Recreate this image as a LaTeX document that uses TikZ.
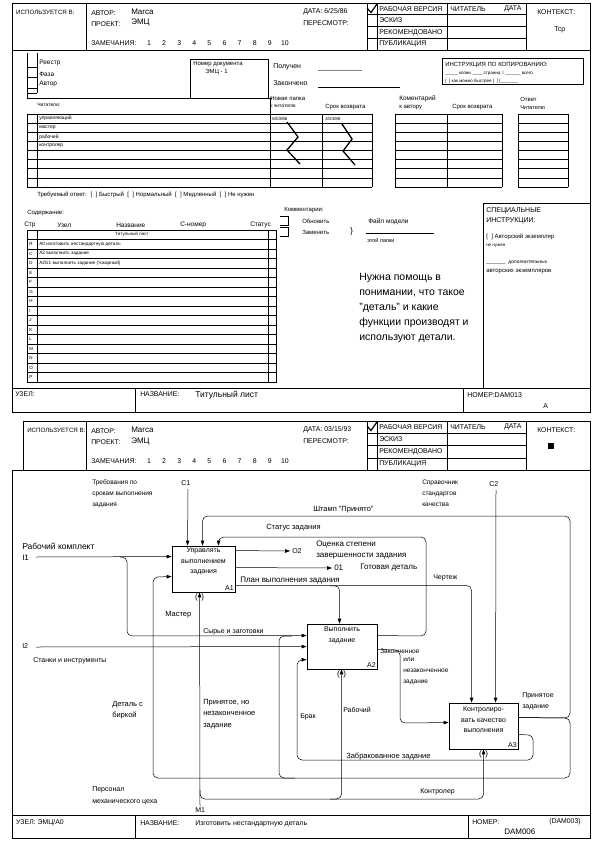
\documentclass[tikz,border=0pt]{standalone}
\usepackage{fontspec}
\setmainfont{Liberation Sans}
\usetikzlibrary{arrows.meta,calc}
\newcommand\fs[2]{\fontsize{#1}{#2}\selectfont}
\newcommand\FormHead[7]{%
\pgfmathsetmacro\hh{(#4-#3)/4}%
\draw (#2,#3) -- (#5,#3);
\draw (#2,#3) -- (#2,#4);
\draw (#5,#3) -- (#5,#4);
\draw (86,#3) -- (86,#4);
\draw (367,#3) -- (367,#4);
\draw (377,#3) -- (377,#4);
\draw (447,#3) -- (447,#4);
\draw (526,#3) -- (526,#4);
\foreach \k in {1,2,3} {\draw (367,{#3+\k*\hh}) -- (526,{#3+\k*\hh});}
\draw[line width=1.2pt] (367,{#3+5}) -- (371,{#3+9.5}) -- (377,{#3+1});
\node[hd,font=\fs{6.2}{7}] (#1use) at (#2+4,#3+9) {ИСПОЛЬЗУЕТСЯ В:};
\node[hd] (#1aut) at (91,#3+10) {АВТОР:};
\node[tx,font=\fs{8}{9}] (#1autv) at (131,#3+8.5) {Marca};
\node[hd] (#1prj) at (91,#3+21) {ПРОЕКТ:};
\node[tx,font=\fs{8}{9}] (#1prjv) at (131,#3+20) {ЭМЦ};
\node[hd] (#1rem) at (91,#3+40) {ЗАМЕЧАНИЯ:};
\foreach \n [count=\i from 0] in {1,...,10} {\node[hd,anchor=center] (#1n\n) at ({149+\i*15.1},#3+40) {\n};}
\node[hd] (#1date) at (303,#3+9) {ДАТА: #6};
\node[hd] (#1rev) at (303,#3+20) {ПЕРЕСМОТР:};
\node[hd] (#1s1) at (379,{#3+0.5*\hh}) {РАБОЧАЯ ВЕРСИЯ};
\node[hd] (#1s2) at (379,{#3+1.5*\hh}) {ЭСКИЗ};
\node[hd] (#1s3) at (379,{#3+2.5*\hh}) {РЕКОМЕНДОВАНО};
\node[hd] (#1s4) at (379,{#3+3.5*\hh}) {ПУБЛИКАЦИЯ};
\node[hd] (#1rd) at (450,{#3+0.5*\hh}) {ЧИТАТЕЛЬ};
\node[hd] (#1dt) at (504,{#3+0.5*\hh}) {ДАТА};
\node[hd] (#1ctx) at (537,#3+9) {КОНТЕКСТ:};
#7}
\begin{document}
\begin{tikzpicture}[x=1pt,y=-1pt,line width=0.5pt,
  tx/.style={anchor=west,inner sep=0pt},
  hd/.style={tx,font=\fs{6.9}{7}},
  sm/.style={tx,font=\fs{5}{6}},
  ml/.style={anchor=north west,inner sep=0pt,align=left},
  dbox/.style={draw,line width=0.9pt,inner sep=0pt},
  arr/.style={-{Triangle[length=5pt,width=3.6pt]}},
  rc/.style={rounded corners=5pt},
  zig/.style={line width=1.3pt}]
\useasboundingbox (0,0) rectangle (597,842);

%================ PAGE 1 =================
\draw (12,3) rectangle (590,412);
\FormHead{p}{12}{3}{50}{590}{6/25/86}{\node[tx,font=\fs{7}{8}] (pctxv) at (554,30) {Tcp};}
\draw (12,50) -- (590,50);
\draw (12,388) -- (590,388);
\draw (135,388) -- (135,412);
\draw (463,388) -- (463,412);

% registry checkboxes
\draw (27,53) -- (27,98) -- (272,98);
\draw (37,53) -- (37,93);
\foreach \yy in {67,77,88,93} {\draw (27,\yy) -- (37,\yy);}
\node[tx,font=\fs{6.5}{7}] (reg) at (39,63) {Реестр};
\node[tx,font=\fs{6.5}{7}] (faz) at (39,74) {Фаза};
\node[tx,font=\fs{6.5}{7}] (avt) at (39,84) {Автор};
\draw (190,98) -- (190,59) -- (268,59) -- (268,98);
\node[tx,font=\fs{6}{7}] (ndoc) at (193,64) {Номер документа};
\node[tx,font=\fs{6}{7}] (ndocv) at (205,72) {ЭМЦ - 1};
\node[tx,font=\fs{7}{8}] (poluch) at (273,67) {Получен};
\draw[gray] (318,70) -- (362,70);
\node[tx,font=\fs{7}{8}] (zakon) at (273,83) {Закончено};
\draw (318,87) -- (400,87);
\draw (442,58) rectangle (583,84);
\node[tx,font=\fs{6}{7}] (instr) at (445,65) {ИНСТРУКЦИЯ ПО КОПИРОВАНИЮ:};
\node[tx,font=\fs{4.5}{5}] (instr2) at (445,74) {\_\_\_\_\_ копии \_\_\_\_ страниц = \_\_\_\_\_\_ всего};
\node[tx,font=\fs{4.5}{5}] (instr3) at (445,81) {[ \ ] как можно быстрее [ \ ] (\_\_\_\_\_\_\_};

\node[sm] (chit) at (37,105) {Читатели:};
\node[tx,font=\fs{6}{7}] (np1) at (270,98) {Новая папка};
\node[tx,font=\fs{5}{6}] (np2) at (270,106) {к читателю};
\node[tx,font=\fs{6}{7}] (sv1) at (325,107) {Срок возврата};
\node[tx,font=\fs{6.5}{7}] (km1) at (399,99) {Коментарий};
\node[tx,font=\fs{6}{7}] (km2) at (399,108) {к автору};
\node[tx,font=\fs{6}{7}] (sv2) at (452,107) {Срок возврата};
\node[tx,font=\fs{6}{7}] (ot1) at (520,99) {Ответ};
\node[tx,font=\fs{5.5}{7}] (ot2) at (520,108) {Читателю};

% reader tables
\foreach \k in {0,...,8} {
  \draw (27,{114+\k*9.125}) -- (372,{114+\k*9.125});
  \draw (395,{114+\k*9.125}) -- (502,{114+\k*9.125});
  \draw (518,{114+\k*9.125}) -- (568,{114+\k*9.125});}
\foreach \xx in {27,37,270,322,372,395,447,502,518,568} {\draw (\xx,114) -- (\xx,187);}
\draw (270,98) -- (270,114);
\node[sm] (r1) at (39,118.5) {управляющий};
\node[sm] (r2) at (39,127.6) {мастер};
\node[sm] (r3) at (39,136.8) {рабочий};
\node[sm] (r4) at (39,145.9) {контролер};
\node[tx,font=\fs{4.5}{5}] (d1) at (272,118.5) {6/03/86};
\node[tx,font=\fs{4.5}{5}] (d2) at (325,118.5) {4/24/86};
\draw[zig] (287,122) -- (298,137) -- (287,150) -- (300,164);
\draw[zig] (342,124) -- (352,139) -- (343,151) -- (355,165);
\node[tx,font=\fs{6}{7}] (treb) at (37,195) {Требуемый ответ: \ [ \ ] Быстрый \ [ \ ] Нормальный \ [ \ ] Медленный \ [ \ ] Не нужен};

% contents
\node[tx,font=\fs{6}{7}] (sod) at (27,213) {Содержание:};
\node[tx,font=\fs{6.5}{7}] (hstr) at (24,225) {Стр};
\node[tx,font=\fs{6.5}{7}] (huz) at (57,225) {Узел};
\node[tx,font=\fs{6.5}{7}] (hnaz) at (116,225) {Название};
\node[tx,font=\fs{6.5}{7}] (hcn) at (180,225) {С-номер};
\node[tx,font=\fs{6.5}{7}] (hst) at (250,225) {Статус};
\draw (27,230) rectangle (268,382);
\draw (268,230) rectangle (276,382);
\draw (37,230) -- (37,382);
\foreach \k in {1,...,15} {\draw (27,{230+\k*9.5}) -- (276,{230+\k*9.5});}
\node[tx,font=\fs{4.5}{5},anchor=center] (tl) at (132,234.75) {Титульный лист};
\foreach \L [count=\i from 1] in {R,C,D,E,F,G,H,I,J,K,L,M,N,O,P} {
  \node[tx,font=\fs{4.5}{5}] (lt\L) at (29,{234.75+\i*9.5}) {\L};}
\node[tx,font=\fs{4.7}{5}] (c1t) at (39,244.25) {A0 изготовить нестандартную деталь};
\node[tx,font=\fs{4.7}{5}] (c2t) at (39,253.75) {A2 выполнить задание};
\node[tx,font=\fs{4.7}{5}] (c3t) at (39,263.25) {A2G1 выполнить задание (токарный)};

% comments
\node[tx,font=\fs{6}{7}] (kom) at (284,210) {Комментарии:};
\draw (280,216) -- (288,216) -- (288,225) -- (280,225);
\draw (280,227) -- (288,227) -- (288,236) -- (280,236);
\node[tx,font=\fs{6}{7}] (obn) at (302,221) {Обновить};
\node[tx,font=\fs{6}{7}] (zam) at (302,232) {Заменить};
\node[tx,font=\fs{8}{8}] (br) at (350,231) {\}};
\node[tx,font=\fs{6.5}{7}] (fm) at (368,222) {Файл модели};
\draw (366,233) -- (434,233);
\node[tx,font=\fs{5.5}{6}] (etp) at (367,240) {этой папки};
\node[ml,font=\fs{10.5}{15}] (help) at (359,273) {Нужна помощь в\\понимании, что такое\\"деталь" и какие\\функции производят и\\используют детали.};

% special instructions
\draw (483,203) -- (590,203);
\draw (483,203) -- (483,388);
\node[tx,font=\fs{7}{8}] (spec1) at (486,211) {СПЕЦИАЛЬНЫЕ};
\node[tx,font=\fs{7}{8}] (spec2) at (486,221) {ИНСТРУКЦИИ:};
\node[tx,font=\fs{6}{7}] (spec3) at (486,237) {[ \ ] Авторский экземпляр};
\node[tx,font=\fs{4.5}{5}] (spec4) at (486,246) {не нужен};
\node[tx,font=\fs{5}{6}] (spec5) at (486,263) {\_\_\_\_\_\_\_ \ дополнительных};
\node[tx,font=\fs{6}{7}] (spec6) at (486,272) {авторских экземпляров};

% footer 1
\node[hd] (f1a) at (15,394) {УЗЕЛ:};
\node[hd] (f1b) at (140,394) {НАЗВАНИЕ:};
\node[tx,font=\fs{8.5}{9}] (f1c) at (195,395) {Титульный лист};
\node[hd,font=\fs{7}{8}] (f1d) at (467,395) {НОМЕР:DAM013};
\node[tx,font=\fs{7}{8}] (f1e) at (543,406) {A};

%================ PAGE 2 =================
\FormHead{q}{23}{421}{470}{590}{03/15/93}{\fill (548,443) rectangle (554,449);}
\draw (12,470) -- (590,470);
\draw (12,470) -- (12,838) -- (590,838) -- (590,470);
\draw (12,815) -- (590,815);
\draw (135,815) -- (135,838);
\draw (468,815) -- (468,838);
\node[hd] (f2a) at (16,823) {УЗЕЛ: ЭМЦ/A0};
\node[hd] (f2b) at (140,823) {НАЗВАНИЕ:};
\node[tx,font=\fs{7}{8}] (f2c) at (195,824) {Изготовить нестандартную деталь};
\node[hd] (f2d) at (472,822) {НОМЕР:};
\node[hd] (f2e) at (549,822) {(DAM003)};
\node[tx,font=\fs{8}{9}] (f2f) at (504,832) {DAM006};

% boxes
\node[dbox,minimum width=63pt,minimum height=46pt] (A1) at (203.5,569) {};
\node[dbox,minimum width=70pt,minimum height=45pt] (A2) at (342,646.5) {};
\node[dbox,minimum width=69pt,minimum height=46pt] (A3) at (483.5,726) {};
\node[ml,font=\fs{7}{10.5},align=center,anchor=north] (A1t) at ($(A1.north)+(0,2)$) {Управлять\\выполнением\\задания};
\node[tx,font=\fs{7}{8},anchor=south east] (A1n) at ($(A1.south east)+(-1.5,-1.5)$) {A1};
\node[ml,font=\fs{7}{10.5},align=center,anchor=north] (A2t) at ($(A2.north)+(0,3)$) {Выполнить\\задание};
\node[tx,font=\fs{7}{8},anchor=south east] (A2n) at ($(A2.south east)+(-1.5,-1.5)$) {A2};
\node[ml,font=\fs{7}{10.5},align=center,anchor=north] (A3t) at ($(A3.north)+(0,4)$) {Контролиро-\\вать качество\\выполнения};
\node[tx,font=\fs{7}{8},anchor=south east] (A3n) at ($(A3.south east)+(-1.5,-1.5)$) {A3};

% ports
\coordinate (A1c1) at ($(A1.north west)+(16,0)$);
\coordinate (A1c2) at ($(A1.north west)+(31,0)$);
\coordinate (A1c3) at ($(A1.north west)+(47,0)$);
\coordinate (A1i1) at ($(A1.north west)+(0,11)$);
\coordinate (A1i2) at ($(A1.north west)+(0,31)$);
\coordinate (A1o1) at ($(A1.north east)+(0,5)$);
\coordinate (A1o2) at ($(A1.north east)+(0,22)$);
\coordinate (A1o3) at ($(A1.north east)+(0,40)$);
\coordinate (A1m) at ($(A1.south west)+(28,0)$);
\coordinate (A2c) at ($(A2.north west)+(33,0)$);
\coordinate (A2i1) at ($(A2.north west)+(0,12)$);
\coordinate (A2i2) at ($(A2.north west)+(0,23)$);
\coordinate (A2i3) at ($(A2.north west)+(0,36)$);
\coordinate (A2o1) at ($(A2.north east)+(0,12)$);
\coordinate (A2o2) at ($(A2.north east)+(0,26)$);
\coordinate (A2m) at ($(A2.south west)+(35,0)$);
\coordinate (A3c1) at ($(A3.north west)+(23,0)$);
\coordinate (A3c2) at ($(A3.north west)+(47,0)$);
\coordinate (A3i) at ($(A3.north west)+(0,20)$);
\coordinate (A3o1) at ($(A3.north east)+(0,15)$);
\coordinate (A3o2) at ($(A3.north east)+(0,32)$);
\coordinate (A3m) at ($(A3.south west)+(35,0)$);
\coordinate (C1) at (188,489);
\coordinate (C2) at (496,490);
\coordinate (I1) at (36,557);
\coordinate (I2) at (36,647);
\coordinate (M1) at (200,806);
\coordinate (O1) at (332,568);
\coordinate (O2) at (290,551);

% arrows
\draw[arr] (C1) -- (A1c1);
\draw[arr] (C2) -- (A3c2);
\draw[arr,rc] (A3o1) -- (570,718) -- (570,516) -- (A1c2 |- 0,516) -- (A1c2);
\draw[arr,rc] (A3o1) -- (570,718) -- (570,778) -- (153,778) -- (153,577) -- (A1i2);
\draw[rc] (295,778) -- (279,778) -- (279,636) -- (292,636);
\draw[arr,rc] (A2o1) -- (426,636) -- (426,537) -- (A1c3 |- 0,537) -- (A1c3);
\draw[arr] (A1o1) -- (O2);
\draw[arr] (A1o2) -- (O1);
\draw[arr,rc] (A1o3) -- (A3c1 |- A1o3) -- (A3c1);
\draw[arr,rc] (330,586) -- (A2c |- A1o3) -- (A2c);
\draw[arr] (I1) -- (A1i1);
\draw[arr,rc] (120,557) -- (127,557) -- (127,636) -- (A2i1);
\draw[arr] (I2) -- (A2i2);
\draw[arr,rc] (A2o2) -- (400,650) -- (400,723) -- (A3i);
\draw[arr,rc] (A3o2) -- (533,735) -- (533,760) -- (297,760) -- (297,660) -- (A2i3);
\draw[arr] (M1) -- (A1m);
\draw[arr,rc] (200,790) -- (200,799) -- (A2m |- 0,799) -- (A2m);
\draw[arr,rc] (330,799) -- (A3m |- 0,799) -- (A3m);
\foreach \b in {A1m,A2m,A3m} {\node[tx,font=\fs{8}{8},anchor=center] at ($(\b)+(0,5)$) {(\hspace{3.6pt})};}

% labels
\node[ml,font=\fs{6.5}{11}] (lc1) at (92,479) {Требования по\\срокам выполнения\\задания};
\node[tx,font=\fs{7}{8}] (lc1n) at (181,483) {C1};
\node[tx,font=\fs{8.5}{9}] (li1) at (22,546) {Рабочий комплект};
\node[tx,font=\fs{8}{9}] (li1n) at (22,558) {I1};
\node[ml,font=\fs{6.5}{11}] (lc2) at (422,480) {Справочник\\стандартов\\качества};
\node[tx,font=\fs{7}{8}] (lc2n) at (489,484) {C2};
\node[tx,font=\fs{7.5}{8}] (lst) at (313,510) {Штамп "Принято"};
\node[tx,font=\fs{7.5}{8}] (lsz) at (266,528) {Статус задания};
\node[tx,font=\fs{7}{8}] (lo2n) at (292,551) {O2};
\node[ml,font=\fs{8}{11}] (lo2) at (316,541) {Оценка степени\\завершенности задания};
\node[tx,font=\fs{8}{9}] (lo1n) at (334,568) {01};
\node[tx,font=\fs{8}{9}] (lo1) at (360,568) {Готовая деталь};
\node[tx,font=\fs{8}{9}] (lpl) at (240,581) {План выполнения задания};
\node[tx,font=\fs{7}{8}] (lch) at (433,578) {Чертеж};
\node[tx,font=\fs{7.5}{8}] (lma) at (165,615) {Мастер};
\node[tx,font=\fs{7}{8}] (lsy) at (203,632) {Сырье и заготовки};
\node[tx,font=\fs{7}{8}] (li2n) at (22,646) {I2};
\node[tx,font=\fs{7}{8}] (li2) at (33,661) {Станки и инструменты};
\node[tx,font=\fs{6.5}{8}] (lza) at (380,651) {Законченное};
\node[ml,font=\fs{6.5}{11}] (lzb) at (403,658) {или\\незаконченное\\задание};
\node[ml,font=\fs{7.5}{11}] (ldt) at (112,701) {Деталь с\\биркой};
\node[ml,font=\fs{7.5}{11.5}] (lpn) at (203,699) {Принятое, но\\незаконченное\\задание};
\node[tx,font=\fs{7}{8}] (lbr) at (300,717) {Брак};
\node[tx,font=\fs{7}{8}] (lrb) at (343,710) {Рабочий};
\node[ml,font=\fs{7}{11}] (lpz) at (522,692) {Принятое\\задание};
\node[tx,font=\fs{7.5}{8}] (lzz) at (346,757) {Забракованное задание};
\node[tx,font=\fs{7}{8}] (lkn) at (420,792) {Контролер};
\node[ml,font=\fs{7}{12}] (lpe) at (92,786) {Персонал\\механического цеха};
\node[tx,font=\fs{7}{8}] (lm1) at (195,810) {M1};
\end{tikzpicture}
\end{document}
